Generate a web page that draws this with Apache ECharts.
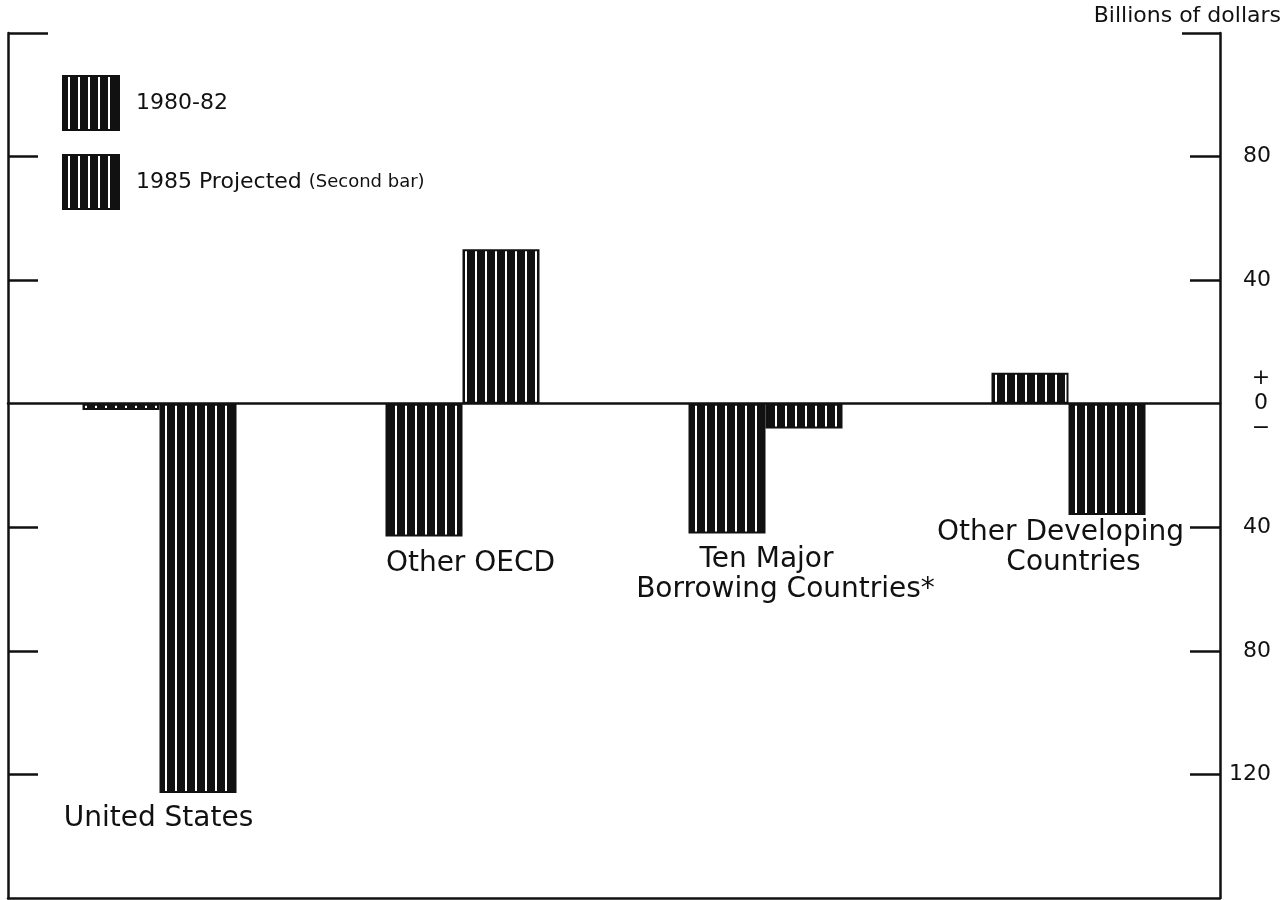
<!DOCTYPE html>
<html>
<head>
<meta charset="utf-8">
<script src="https://cdn.jsdelivr.net/npm/echarts@6/dist/echarts.min.js"></script>
<style>html,body{margin:0;padding:0;background:#fff;}#c{width:1286px;height:900px;}</style>
</head>
<body>
<div id="c"></div>
<script>
// ---- data ----
const categories = ['United States', 'Other OECD', 'Ten Major Borrowing Countries*', 'Other Developing Countries'];
const categoryLines = [['United States'], ['Other OECD'], ['Ten Major', 'Borrowing Countries*'], ['Other Developing', 'Countries']];
const seriesNames = ['1980-82', '1985 Projected'];
const values1980_82 = [-2, -43, -42, 10];
const values1985 = [-126, 50, -8, -36];
const tickValues = [-120, -80, -40, 0, 40, 80];
const unitTitle = 'Billions of dollars';

// ---- style ----
const INK = '#111';
const FONT = 'DejaVu Sans';
const LW = 2.5;
function makePattern() {
  const cv = document.createElement('canvas');
  cv.width = 10; cv.height = 10;
  const g = cv.getContext('2d');
  g.fillStyle = INK; g.fillRect(0, 0, 10, 10);
  g.fillStyle = '#ffffff'; g.fillRect(5, 0, 2, 10);
  return cv;
}
const pattern = { image: makePattern(), repeat: 'repeat' };

const chart = echarts.init(document.getElementById('c'), null, { renderer: 'canvas' });

function yAxisBase(pos) {
  return {
    type: 'value', position: pos, min: -160, max: 120, interval: 40,
    splitLine: { show: false }
  };
}

const option = {
  animation: false,
  backgroundColor: '#fff',
  title: {
    text: unitTitle, right: 5, top: 5, padding: 0,
    textStyle: { fontFamily: FONT, fontSize: 22, fontWeight: 'normal', color: INK }
  },
  legend: {
    data: seriesNames, orient: 'vertical', left: 62, top: 75, padding: 0,
    itemWidth: 56, itemHeight: 54, itemGap: 23, icon: 'rect',
    selectedMode: false,
    formatter: function (n) { return n === '1985 Projected' ? '1985 Projected {s|(Second bar)}' : n; },
    textStyle: {
      fontFamily: FONT, fontSize: 22, color: INK, padding: [0, 0, 0, 12],
      rich: { s: { fontFamily: FONT, fontSize: 18, color: INK } }
    }
  },
  grid: { left: 8, right: 66, top: 33, bottom: 2, containLabel: false },
  xAxis: [
    {
      type: 'category', data: categories, position: 'top',
      axisLine: { show: true, onZero: true, lineStyle: { color: INK, width: LW } },
      axisTick: { show: false }, axisLabel: { show: false }, splitLine: { show: false }
    },
    {
      type: 'category', data: categories, position: 'bottom',
      axisLine: { show: true, onZero: false, lineStyle: { color: INK, width: LW } },
      axisTick: { show: false }, axisLabel: { show: false }, splitLine: { show: false }
    }
  ],
  yAxis: [
    Object.assign(yAxisBase('right'), {
      axisLine: { show: true, lineStyle: { color: INK, width: LW } },
      axisTick: { show: true, inside: true, length: 30, customValues: [-120, -80, -40, 40, 80], lineStyle: { color: INK, width: LW } },
      axisLabel: {
        show: true, margin: 51, align: 'right', customValues: tickValues,
        fontFamily: FONT, fontSize: 22, color: INK,
        formatter: function (v) { return v === 0 ? '{c|+}\n{c|0}\n{c|\u2212}' : String(Math.abs(v)); },
        rich: { c: { width: 20, align: 'center', lineHeight: 25, fontFamily: FONT, fontSize: 22, color: INK } }
      }
    }),
    Object.assign(yAxisBase('left'), {
      axisLine: { show: true, lineStyle: { color: INK, width: LW } },
      axisTick: { show: true, inside: true, length: 30, customValues: [-120, -80, -40, 40, 80], lineStyle: { color: INK, width: LW } },
      axisLabel: { show: false }
    }),
    Object.assign(yAxisBase('right'), {
      axisLine: { show: false },
      axisTick: { show: true, inside: true, length: 38, customValues: [120], lineStyle: { color: INK, width: LW } },
      axisLabel: { show: false }
    }),
    Object.assign(yAxisBase('left'), {
      axisLine: { show: false },
      axisTick: { show: true, inside: true, length: 40, customValues: [120], lineStyle: { color: INK, width: LW } },
      axisLabel: { show: false }
    })
  ],
  series: [
    {
      name: seriesNames[0], type: 'bar', data: values1980_82, barWidth: 77, barGap: '0%',
      itemStyle: { color: pattern, borderColor: INK, borderWidth: 2 }
    },
    {
      name: seriesNames[1], type: 'bar', data: values1985, barWidth: 77, barGap: '0%',
      itemStyle: { color: pattern, borderColor: INK, borderWidth: 2 }
    }
  ]
};
chart.setOption(option);

// category captions placed from the category axis positions
const captionLayout = [
  [{ dx: -1, y: 819 }],
  [{ dx: 8, y: 564 }],
  [{ dx: 1, y: 560 }, { dx: 20, y: 590 }],
  [{ dx: -8, y: 533 }, { dx: 5, y: 563 }]
];
const elements = [];
categories.forEach(function (cat, i) {
  const cx = chart.convertToPixel({ xAxisIndex: 0 }, cat);
  categoryLines[i].forEach(function (line, j) {
    const L = captionLayout[i][j];
    elements.push({
      type: 'text', x: cx + L.dx, y: L.y,
      style: { text: line, fontFamily: FONT, fontSize: 28, fill: INK, align: 'center', verticalAlign: 'middle' }
    });
  });
});
chart.setOption({ graphic: { elements: elements } });
</script>
</body>
</html>
